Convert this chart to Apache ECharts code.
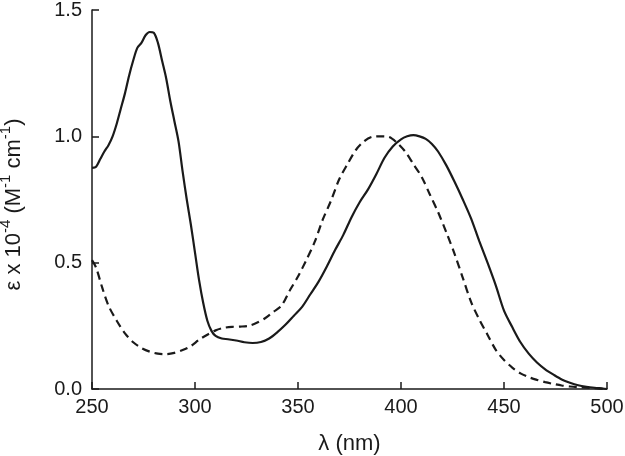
<!DOCTYPE html>
<html>
<head>
<meta charset="utf-8">
<script src="https://cdn.jsdelivr.net/npm/echarts@6/dist/echarts.min.js"></script>
<style>
  html, body { margin: 0; padding: 0; background: #fff; }
  #chart { width: 625px; height: 456px; }
</style>
</head>
<body>
<div id="chart"></div>
<script>
  // solid curve
  var solidNm = [250, 252, 254, 256, 258, 260, 262, 264, 266, 268, 270, 272, 274, 276, 278, 280, 282, 284, 286, 288,
    290, 292, 294, 296, 298, 300, 302, 304, 306, 308, 310, 313, 316, 320, 324, 328, 332, 336, 340, 344,
    348, 352, 356, 360, 364, 368, 372, 376, 380, 384, 388, 392, 396, 400, 403, 406, 409, 412, 415, 418,
    422, 426, 430, 434, 438, 442, 446, 450, 454, 458, 462, 466, 470, 474, 478, 482, 486, 490, 494, 498, 500]
  var solidEps = [0.875, 0.88, 0.91, 0.94, 0.965, 1.0, 1.05, 1.11, 1.17, 1.24, 1.30, 1.35, 1.37, 1.40, 1.413, 1.41, 1.37, 1.30, 1.23, 1.14,
    1.06, 0.98, 0.86, 0.75, 0.65, 0.54, 0.43, 0.34, 0.27, 0.23, 0.21, 0.20, 0.197, 0.192, 0.185, 0.182, 0.186, 0.20, 0.225, 0.255,
    0.29, 0.325, 0.375, 0.425, 0.485, 0.55, 0.61, 0.68, 0.74, 0.79, 0.85, 0.915, 0.96, 0.988, 1.0, 1.005, 1.0, 0.99, 0.97, 0.94,
    0.885, 0.82, 0.75, 0.675, 0.585, 0.50, 0.41, 0.31, 0.245, 0.185, 0.14, 0.105, 0.078, 0.057, 0.038, 0.025, 0.015, 0.009, 0.005, 0.002, 0.0]

  // dashed curve
  var dashNm = [250, 252, 255, 258, 262, 266, 270, 274, 278, 282, 286, 290, 294, 298, 302, 306, 310, 314, 318, 322,
    326, 330, 334, 338, 342, 346, 350, 354, 358, 362, 366, 370, 374, 378, 382, 386, 390, 394, 398, 402,
    406, 410, 414, 418, 422, 426, 430, 434, 438, 442, 446, 450, 454, 458, 462, 466, 470, 474, 478, 482,
    486, 490, 494, 500]
  var dashEps = [0.51, 0.48, 0.40, 0.33, 0.27, 0.22, 0.185, 0.162, 0.148, 0.14, 0.138, 0.143, 0.154, 0.17, 0.195, 0.215, 0.232, 0.242, 0.246, 0.247,
    0.25, 0.262, 0.28, 0.305, 0.33, 0.39, 0.445, 0.51, 0.58, 0.67, 0.745, 0.83, 0.89, 0.945, 0.98, 0.998, 1.0, 0.998, 0.975, 0.94,
    0.89, 0.84, 0.77, 0.70, 0.62, 0.535, 0.44, 0.345, 0.275, 0.215, 0.155, 0.115, 0.085, 0.062, 0.047, 0.036, 0.027, 0.02, 0.014, 0.01,
    0.007, 0.005, 0.003, 0.0]

  var xTicks = [250, 300, 350, 400, 450, 500]
  var yTicks = [0.0, 0.5, 1.0, 1.5]

  function pairs(xs, ys) {
    return xs.map(function (x, i) { return [x, ys[i]] })
  }

  var ink = '#1a1a1a'
  var font = '"Liberation Sans", Arial, sans-serif'

  var chart = echarts.init(document.getElementById('chart'), null, { renderer: 'canvas' })
  chart.setOption({
    animation: false,
    backgroundColor: '#fff',
    grid: { left: 92, right: 18, top: 10, bottom: 67, outerBoundsMode: 'none', containLabel: false },
    xAxis: {
      type: 'value',
      min: xTicks[0],
      max: xTicks[xTicks.length - 1],
      interval: 50,
      name: 'λ (nm)',
      nameLocation: 'middle',
      nameGap: 44,
      nameTextStyle: { color: ink, fontSize: 22, fontFamily: font },
      axisLine: { lineStyle: { color: ink, width: 1.5 } },
      axisTick: { inside: true, length: 7, lineStyle: { color: ink, width: 1.5 } },
      axisLabel: { color: ink, fontSize: 20, fontFamily: font, margin: 8 },
      splitLine: { show: false }
    },
    yAxis: {
      type: 'value',
      min: yTicks[0],
      max: yTicks[yTicks.length - 1],
      interval: 0.5,
      name: '{m|ε x 10}{s|-4}{m| (M}{s|-1}{m| cm}{s|-1}{m|)}',
      nameLocation: 'middle',
      nameGap: 62,
      nameRotate: 90,
      nameTextStyle: {
        color: ink,
        fontFamily: font,
        padding: [0, 10, 0, 0],
        rich: {
          m: { fontSize: 22, color: ink, fontFamily: font },
          s: { fontSize: 15, color: ink, fontFamily: font, padding: [0, 0, 17, 0] }
        }
      },
      axisLine: { show: true, lineStyle: { color: ink, width: 1.5 } },
      axisTick: { show: true, inside: true, length: 7, lineStyle: { color: ink, width: 1.5 } },
      axisLabel: {
        color: ink, fontSize: 20, fontFamily: font, margin: 10,
        formatter: function (v) { return v.toFixed(1) }
      },
      splitLine: { show: false }
    },
    series: [
      {
        type: 'line',
        data: pairs(solidNm, solidEps),
        showSymbol: false,
        smooth: 0.3,
        lineStyle: { color: ink, width: 2.2 }
      },
      {
        type: 'line',
        data: pairs(dashNm, dashEps),
        showSymbol: false,
        smooth: 0.3,
        lineStyle: { color: ink, width: 2.2, type: [8, 5] }
      }
    ]
  })
</script>
</body>
</html>
